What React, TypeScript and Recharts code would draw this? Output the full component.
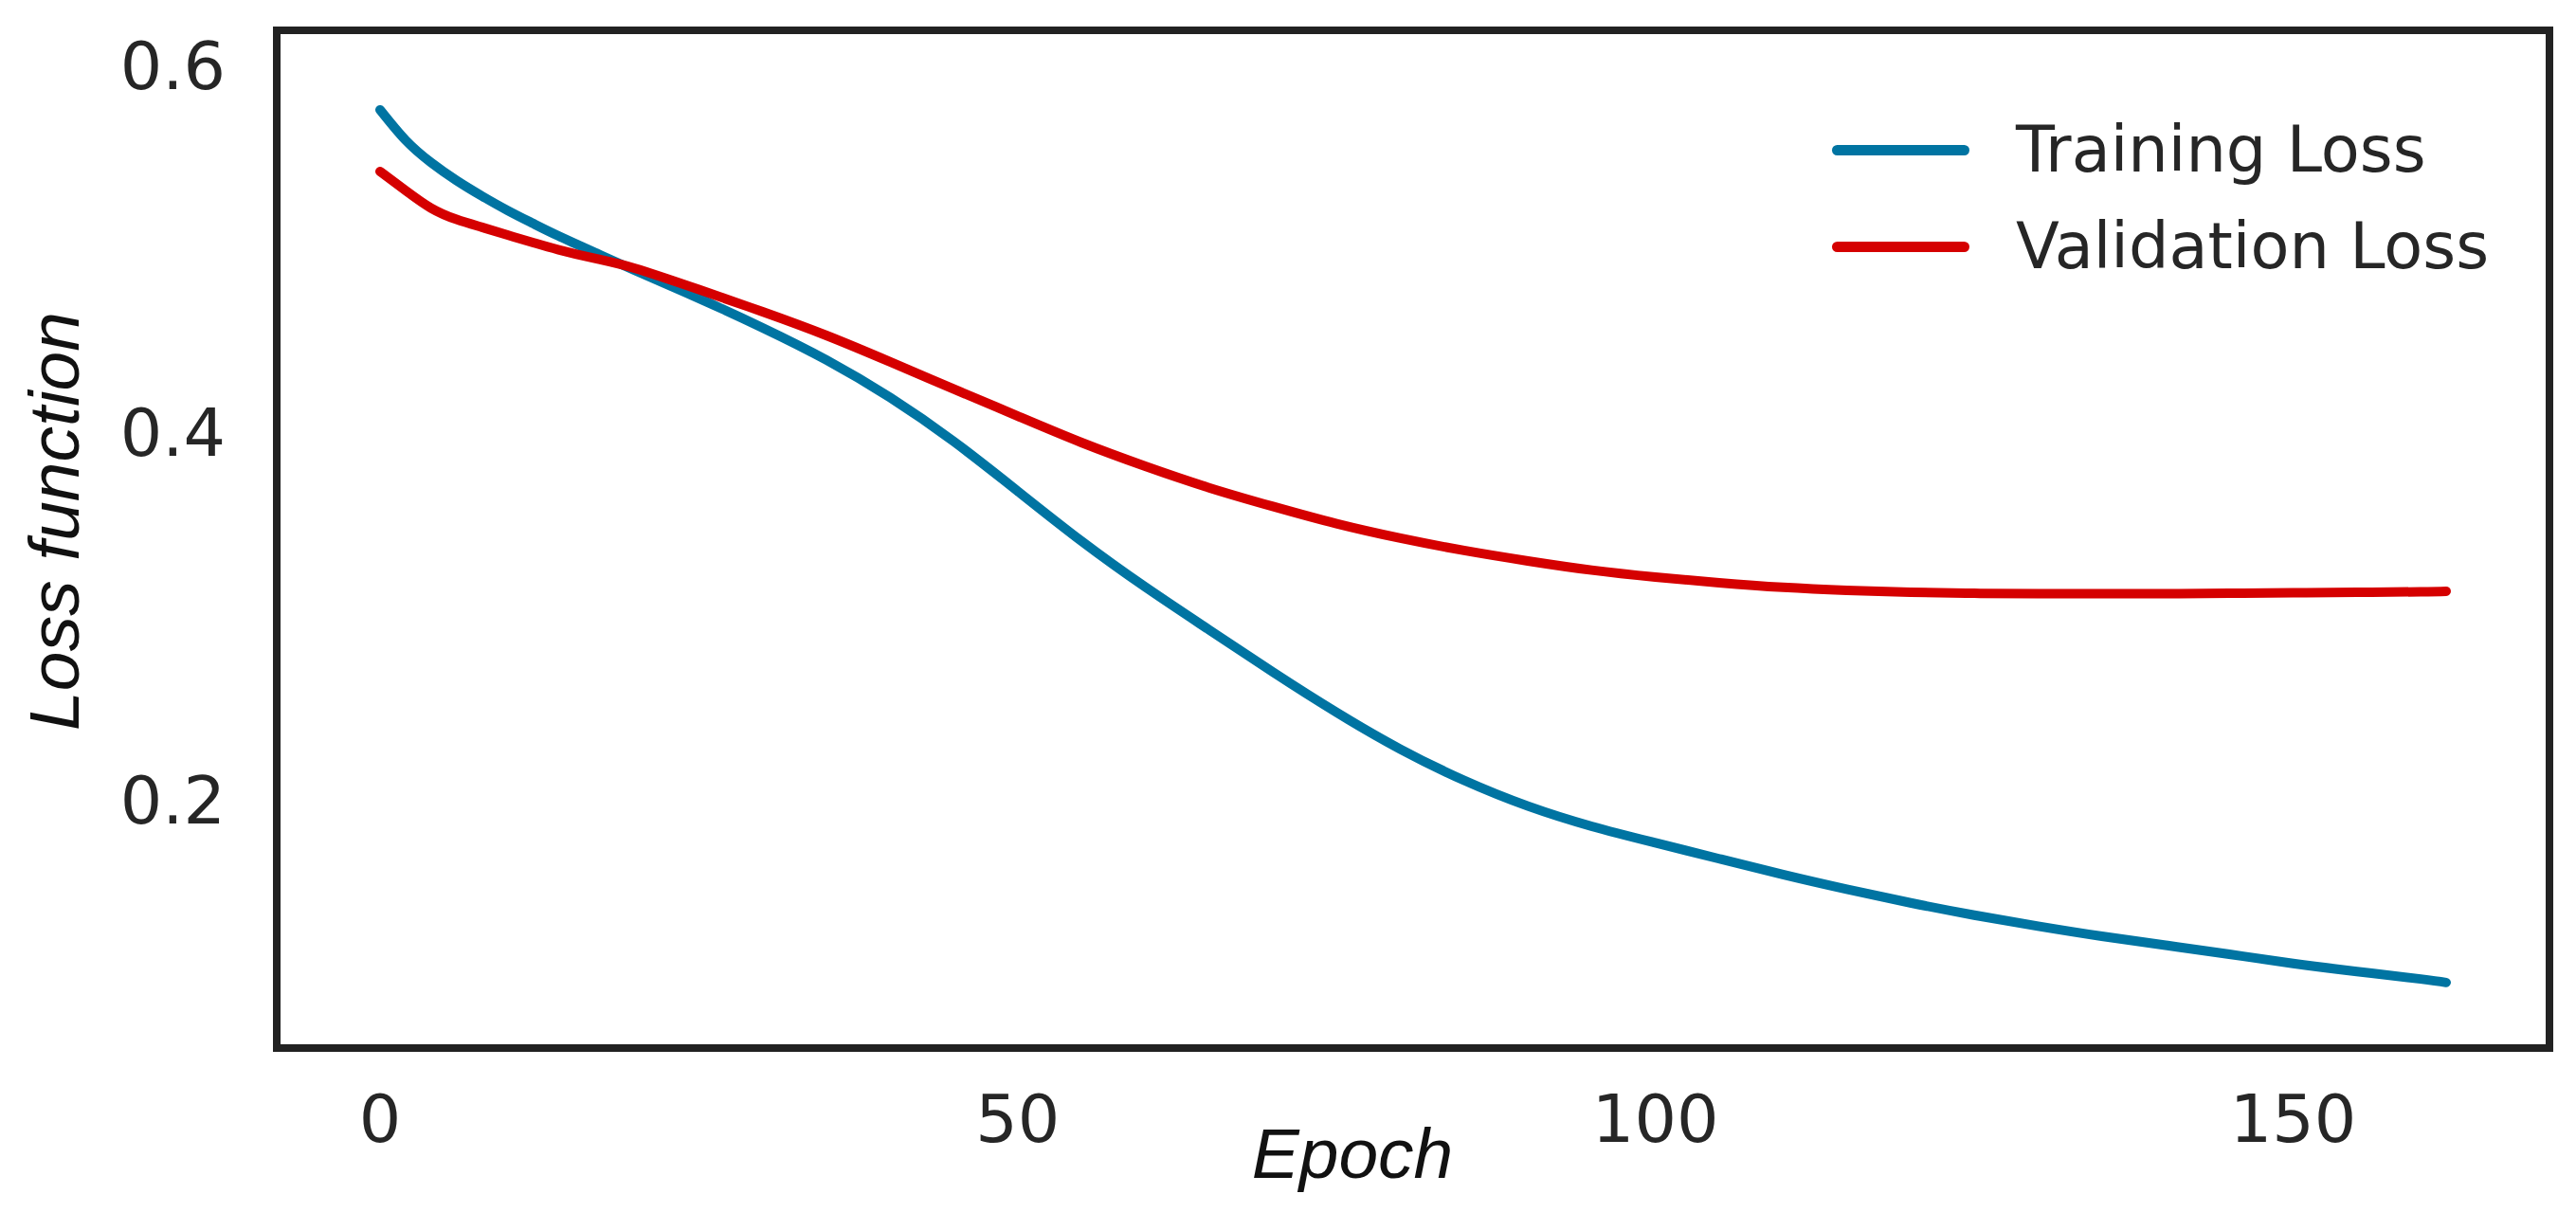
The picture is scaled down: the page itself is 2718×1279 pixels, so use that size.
import { LineChart, Line, XAxis, YAxis, Legend } from 'recharts';

// epochs sampled along the curves
const epochs = [
  0, 2, 4, 6, 8, 10, 12, 14, 17, 20, 25, 30, 35, 40, 45, 50, 55, 60, 65, 70,
  75, 80, 85, 90, 95, 100, 105, 110, 115, 120, 125, 130, 135, 140, 145, 150,
  155, 160, 162,
];

const trainingLoss = [
  0.5757, 0.5592, 0.5470, 0.5372, 0.5287, 0.5209, 0.5138, 0.5070, 0.4975,
  0.4882, 0.4730, 0.4570, 0.4395, 0.4190, 0.3950, 0.3680, 0.3408, 0.3158,
  0.2925, 0.2695, 0.2475, 0.2275, 0.2105, 0.1965, 0.1855, 0.1765, 0.1678,
  0.1592, 0.1512, 0.1438, 0.1371, 0.1311, 0.1256, 0.1207, 0.1158, 0.1108,
  0.1064, 0.1023, 0.1004,
];

const validationLoss = [
  0.5421, 0.5318, 0.5222, 0.5160, 0.5117, 0.5075, 0.5034, 0.4995, 0.4945,
  0.4893, 0.4778, 0.4657, 0.4528, 0.4384, 0.4236, 0.4089, 0.3945, 0.3816,
  0.3699, 0.3597, 0.3503, 0.3424, 0.3357, 0.3300, 0.3250, 0.3212, 0.3181,
  0.3156, 0.3140, 0.3130, 0.3124, 0.3122, 0.3122, 0.3122, 0.3124, 0.3127,
  0.3129, 0.3132, 0.3135,
];

const xTicks = [0, 50, 100, 150];
const yTicks = [0.2, 0.4, 0.6];

const data = epochs.map((epoch, i) => ({
  epoch,
  training: trainingLoss[i],
  validation: validationLoss[i],
}));

const frame = { stroke: '#222222', strokeWidth: 8, strokeLinecap: 'square' as const };
const tickStyle = { fill: '#262626', fontSize: 70, fontFamily: 'DejaVu Sans' };
const labelFont = { fontFamily: 'Liberation Sans', fontStyle: 'italic', fontSize: 75, fill: '#111' };

const renderLegend = (props: any) => (
  <div style={{ fontFamily: 'DejaVu Sans', fontSize: 67, color: '#262626' }}>
    {(props.payload || []).map((entry: any) => (
      <div key={entry.value} style={{ display: 'flex', alignItems: 'center', height: 102 }}>
        <span
          style={{
            display: 'inline-block',
            width: 145,
            height: 11,
            borderRadius: 6,
            background: entry.color,
            marginRight: 49,
          }}
        />
        <span style={{ lineHeight: 1, whiteSpace: 'nowrap' }}>{entry.value}</span>
      </div>
    ))}
  </div>
);

const App = () => {
  return (
    <div style={{ width: 2710, height: 1271, background: '#fff' }}>
      <LineChart width={2710} height={1271} data={data} margin={{ top: 0, right: 0, bottom: 0, left: 0 }}>
        <XAxis
          type="number"
          dataKey="epoch"
          domain={[-8.1, 170.1]}
          ticks={xTicks}
          allowDataOverflow
          height={173}
          axisLine={frame}
          tickLine={false}
          tickSize={0}
          tickMargin={49}
          tick={tickStyle}
          label={{
            content: (p: any) => {
              const vb = p.viewBox || { x: 284, y: 1098, width: 2398 };
              return (
                <text x={vb.x + vb.width / 2 - 64} y={vb.y + 137} textAnchor="middle" {...labelFont}>
                  Epoch
                </text>
              );
            },
          }}
        />
        <XAxis
          xAxisId="top"
          orientation="top"
          type="number"
          domain={[-8.1, 170.1]}
          allowDataOverflow
          height={24}
          axisLine={frame}
          tick={false}
          tickLine={false}
        />
        <YAxis
          type="number"
          domain={[0.0647, 0.619]}
          ticks={yTicks}
          allowDataOverflow
          width={284}
          axisLine={frame}
          tickLine={false}
          tickSize={0}
          tickMargin={54}
          tick={tickStyle}
          label={{
            content: (p: any) => {
              const vb = p.viewBox || { x: 0, y: 24, width: 284, height: 1074 };
              const x = vb.x + 75;
              const y = vb.y + vb.height / 2 - 19;
              return (
                <text x={x} y={y} textAnchor="middle" transform={`rotate(-90, ${x}, ${y})`} {...labelFont}>
                  Loss function
                </text>
              );
            },
          }}
        />
        <YAxis
          yAxisId="right"
          orientation="right"
          type="number"
          domain={[0.0647, 0.619]}
          allowDataOverflow
          width={28}
          axisLine={frame}
          tick={false}
          tickLine={false}
        />
        <Legend
          layout="vertical"
          align="center"
          verticalAlign="middle"
          content={renderLegend}
          wrapperStyle={{ left: 1925, top: 99, width: 760, height: 204 }}
        />
        <Line
          type="natural"
          dataKey="training"
          name="Training Loss"
          stroke="#0074a2"
          strokeWidth={10}
          strokeLinecap="round"
          dot={false}
          isAnimationActive={false}
        />
        <Line
          type="natural"
          dataKey="validation"
          name="Validation Loss"
          stroke="#d50000"
          strokeWidth={10}
          strokeLinecap="round"
          dot={false}
          isAnimationActive={false}
        />
      </LineChart>
    </div>
  );
};

export default App;
